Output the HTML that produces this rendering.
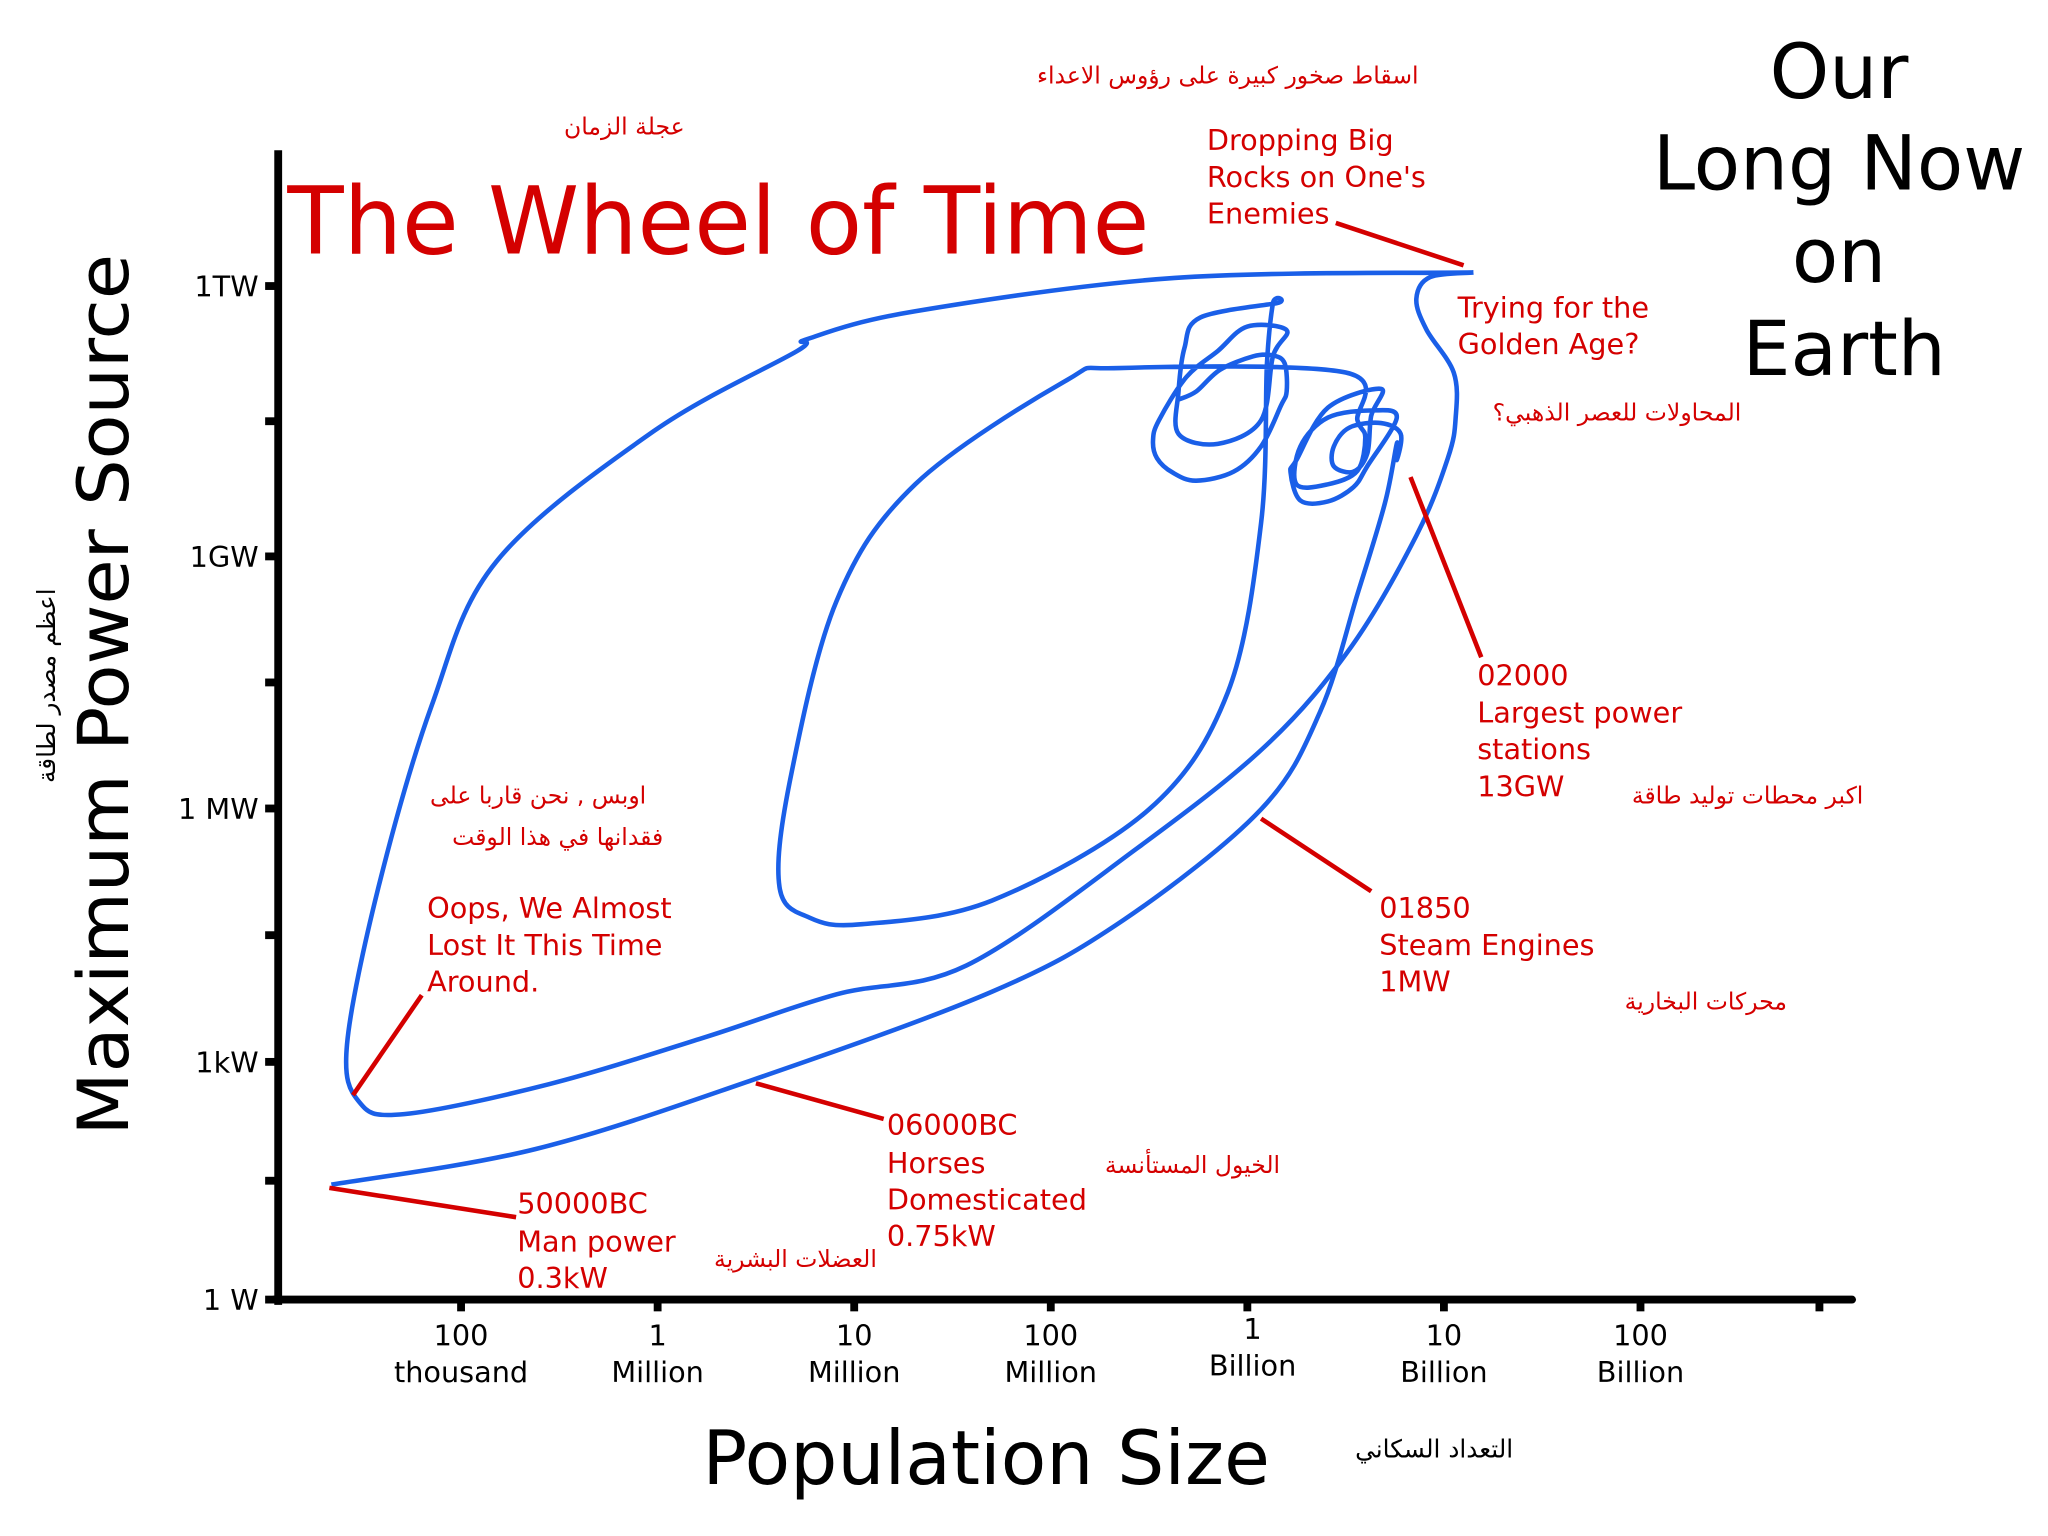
<!DOCTYPE html>
<html><head><meta charset="utf-8"><style>
html,body{margin:0;padding:0;background:#fff}
svg{display:block}
text{font-family:"DejaVu Sans","Liberation Sans",sans-serif}
.red{fill:#d40000}
</style></head><body>
<svg id="chart" width="2048" height="1536" viewBox="0 0 1568 1176" xmlns="http://www.w3.org/2000/svg">
<g id="axes"></g>
<g id="curves"></g>
<g id="pointers"></g>

<text class="red" x="220" y="194" font-size="72" textLength="660" lengthAdjust="spacingAndGlyphs">The Wheel of Time</text>
<g font-size="58" text-anchor="middle" fill="#000">
<text x="1408" y="75">Our</text><text x="1408" y="145">Long Now</text><text x="1408" y="216">on</text><text x="1412" y="287">Earth</text>
</g>
<text font-size="54" text-anchor="middle" textLength="675" lengthAdjust="spacingAndGlyphs" transform="translate(98,532) rotate(-90)">Maximum Power Source</text>
<text font-size="19" text-anchor="middle" transform="translate(42,525) rotate(-90)">اعظم مصدر لطاقة</text>
<text font-size="57" text-anchor="middle" x="755" y="1136">Population Size</text>
<text font-size="19" text-anchor="middle" x="1098" y="1116">التعداد السكاني</text>

<g class="red" font-size="22">
<text x="924" y="115">Dropping Big</text><text x="924" y="143">Rocks on One's</text><text x="924" y="171">Enemies</text>
<text x="1116" y="243">Trying for the</text><text x="1116" y="271">Golden Age?</text>
<text x="1131" y="525">02000</text><text x="1131" y="553">Largest power</text><text x="1131" y="581">stations</text><text x="1131" y="610">13GW</text>
<text x="1056" y="703">01850</text><text x="1056" y="731">Steam Engines</text><text x="1056" y="759">1MW</text>
<text x="679" y="869">06000BC</text><text x="679" y="898">Horses</text><text x="679" y="926">Domesticated</text><text x="679" y="954">0.75kW</text>
<text x="396" y="929">50000BC</text><text x="396" y="958">Man power</text><text x="396" y="986">0.3kW</text>
<text x="327" y="703">Oops, We Almost</text><text x="327" y="731">Lost It This Time</text><text x="327" y="759">Around.</text>
</g>
<g class="red" font-size="18" text-anchor="middle">
<text x="940" y="64">اسقاط صخور كبيرة على رؤوس الاعداء</text>
<text x="478" y="103">عجلة الزمان</text>
<text x="1238" y="322">المحاولات للعصر الذهبي؟</text>
<text x="1338" y="615">اكبر محطات توليد طاقة</text>
<text x="1306" y="773">محركات البخارية</text>
<text x="913" y="898">الخيول المستأنسة</text>
<text x="609" y="970">العضلات البشرية</text>
<text x="412" y="615">اوبس , نحن قاربا على</text>
<text x="427" y="647">فقدانها في هذا الوقت</text>
</g>
</svg>
<script>
// log10(population) ticks
const xTickVals=[5,6,7,8,9,10,11,12];
const xTickLabels=[["100","thousand"],["1","Million"],["10","Million"],["100","Million"],["1","Billion"],["10","Billion"],["100","Billion"],["",""]];
// log10(watts) ticks
const yTickVals=[0,3,6,9,12];
const yTickLabels=["1 W","1kW","1 MW","1GW","1TW"];
const yMinorVals=[1.5,4.5,7.5,10.5];
// growth path [log10 pop, log10 watts]
const growthPop=[4.34,5.38,6.48,7.70,8.37,9.07,9.37,9.56,9.70,9.76,9.76,9.78,9.68,9.52,9.44,9.44,9.54,9.61,9.63,9.68,9.41,9.25,9.22,9.27,9.41,9.54,9.61,9.76,9.64,9.41,9.27,9.25,9.41,9.56,9.60,9.56,9.50,8.35,8.07,7.31,6.91,6.67,6.62,6.77,7.04,7.70,8.50,8.90,9.07,9.10,9.13,9.15,8.76,8.68,8.65,8.65,8.85,9.07,9.13,9.20,9.00,8.85,8.69,8.55,8.52,8.54,8.62,8.74,8.93,9.07,9.17,9.20,9.19,9.13,9.03,8.86,8.74,8.65];
const growthPow=[1.45,1.90,2.77,3.83,4.68,5.99,7.15,8.55,9.59,10.25,10.07,10.36,10.48,10.43,10.22,10.00,9.94,10.14,10.56,10.86,10.65,10.07,9.93,9.62,9.61,9.77,10.00,10.54,10.62,10.54,10.22,9.80,9.80,9.95,10.32,10.51,11.04,11.09,10.94,9.80,8.47,6.29,5.07,4.71,4.63,4.91,5.99,7.38,9.37,11.14,11.81,11.81,11.65,11.31,10.83,10.36,10.25,10.51,11.22,11.51,11.55,11.28,10.99,10.51,10.29,10.09,9.93,9.84,9.94,10.22,10.67,10.83,11.14,11.23,11.22,11.07,10.83,10.74];
// outer loop
const loopPop=[10.15,9.93,9.86,9.91,10.05,10.06,10.02,9.86,9.53,9.10,8.44,7.57,6.91,6.24,5.45,4.71,4.48,4.42,4.58,4.85,5.18,5.98,6.71,6.76,7.31,8.63,10.15];
const loopPow=[12.15,12.10,11.86,11.52,11.04,10.54,10.09,9.23,7.93,6.76,5.53,4.14,3.80,3.29,2.72,2.34,2.50,3.21,5.07,7.22,8.94,10.39,11.28,11.41,11.72,12.09,12.15];
// annotation pointers
const pointerPop1=[4.33,6.50,9.07,9.83,9.45,4.45];
const pointerPow1=[1.41,2.73,5.88,9.88,12.70,2.58];
const pointerPop2=[5.28,7.15,9.63,10.19,10.10,4.80];
const pointerPow2=[1.04,2.28,5.02,7.80,12.23,3.79];

const NS="http://www.w3.org/2000/svg";
function X(v){return 353+(v-5)*150.5;}
const yKnotV=[0,3,6,9,12], yKnotP=[995,813,619,426,219];
function Y(v){
  let i=0; while(i<yKnotV.length-2 && v>yKnotV[i+1]) i++;
  const t=(v-yKnotV[i])/(yKnotV[i+1]-yKnotV[i]);
  return yKnotP[i]+t*(yKnotP[i+1]-yKnotP[i]);
}
function mk(tag,attrs,parent){const e=document.createElementNS(NS,tag);for(const k in attrs)e.setAttribute(k,attrs[k]);parent.appendChild(e);return e;}
const axes=document.getElementById('axes');
let l=mk('line',{x1:213,y1:115,x2:213,y2:999,stroke:'#000','stroke-width':6},axes);


l=mk('line',{x1:210,y1:995,x2:1418,y2:995,stroke:'#000','stroke-width':6,'stroke-linecap':'round'},axes);


yTickVals.forEach((v,i)=>{
  const t=mk('line',{x1:203,y1:Y(v),x2:213,y2:Y(v),stroke:'#000','stroke-width':6},axes);
  
  
  const tx=mk('text',{x:198,y:Y(v)+8,'font-size':22,'text-anchor':'end'},axes);
  tx.textContent=yTickLabels[i];
  
  
});
yMinorVals.forEach(v=>{
  const t=mk('line',{x1:203,y1:Y(v),x2:213,y2:Y(v),stroke:'#000','stroke-width':6},axes);
  
  
});
xTickVals.forEach((v,i)=>{
  const xx=Math.min(X(v),1393);
  const t=mk('line',{x1:xx,y1:995,x2:xx,y2:1004,stroke:'#000','stroke-width':6},axes);
  
  
  const lab=xTickLabels[i];
  if(lab[0]){
    const off=(i===4)?-5:0;
    const dx=(i===4)?4:0;
    const a=mk('text',{x:xx+dx,y:1030+off,'font-size':22,'text-anchor':'middle'},axes);
    a.textContent=lab[0];
    
    
    const b=mk('text',{x:xx+dx,y:1058+off,'font-size':22,'text-anchor':'middle'},axes);
    b.textContent=lab[1];
    
    
  }
});
function smooth(px,py){
  const P=px.map((v,i)=>[X(v),Y(py[i])]);
  let d='M'+P[0][0].toFixed(1)+','+P[0][1].toFixed(1);
  for(let i=0;i<P.length-1;i++){
    const p0=P[Math.max(0,i-1)],p1=P[i],p2=P[i+1],p3=P[Math.min(P.length-1,i+2)];
    const c1=[p1[0]+(p2[0]-p0[0])/6,p1[1]+(p2[1]-p0[1])/6];
    const c2=[p2[0]-(p3[0]-p1[0])/6,p2[1]-(p3[1]-p1[1])/6];
    d+=' C'+c1.map(n=>n.toFixed(1))+' '+c2.map(n=>n.toFixed(1))+' '+p2.map(n=>n.toFixed(1));
  }
  return d;
}
const curves=document.getElementById('curves');
let p=mk('path',{d:smooth(loopPop,loopPow),fill:'none',stroke:'#1a5fe8','stroke-width':3.5,'stroke-linejoin':'round'},curves);


p=mk('path',{d:smooth(growthPop,growthPow),fill:'none',stroke:'#1a5fe8','stroke-width':3.5,'stroke-linejoin':'round'},curves);


const pointers=document.getElementById('pointers');
pointerPop1.forEach((v,i)=>{
  const e=mk('line',{x1:X(v),y1:Y(pointerPow1[i]),x2:X(pointerPop2[i]),y2:Y(pointerPow2[i]),stroke:'#d40000','stroke-width':3.5},pointers);
  
  
});
</script>
</body></html>
